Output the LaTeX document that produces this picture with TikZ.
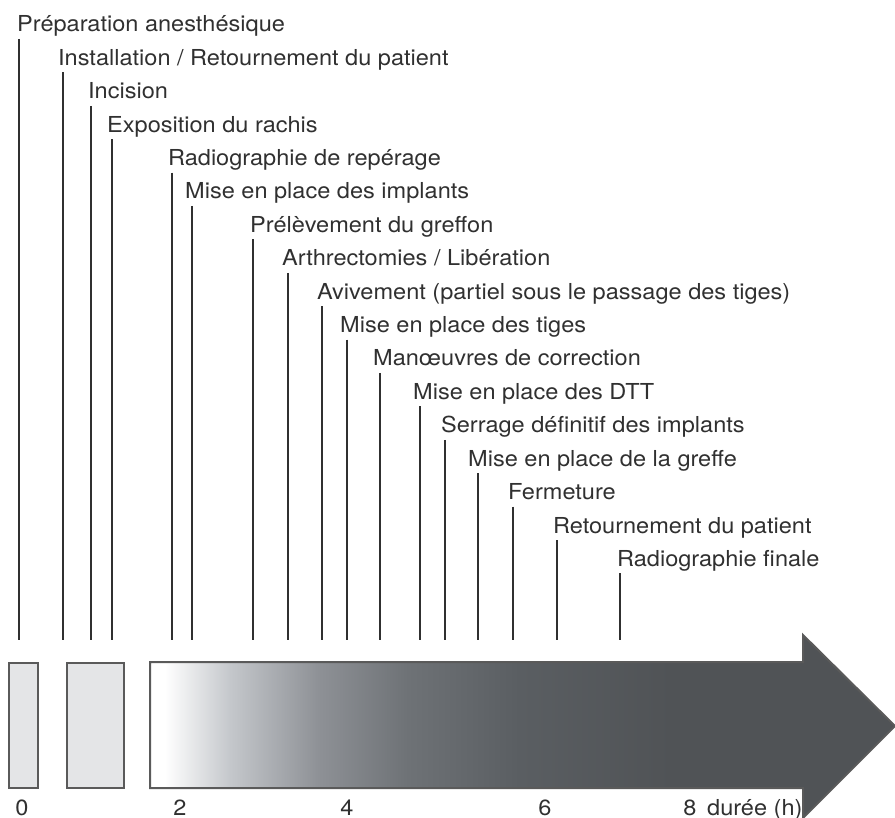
\documentclass[tikz,border=0pt]{standalone}
\usepackage{xcolor}
\usepackage{fontspec}
\setmainfont[FakeStretch=1.07]{TeX Gyre Heros}
\usepackage{tikz}
\usetikzlibrary{positioning, calc, shadings}
\definecolor{inkgray}{HTML}{303030}
\definecolor{edgegray}{HTML}{5A5A5A}
\definecolor{boxfill}{HTML}{E4E5E7}
\definecolor{shadeA}{HTML}{C4C7CB}
\definecolor{shadeB}{HTML}{8E9196}
\definecolor{shadeC}{HTML}{6E7276}
\definecolor{shadeD}{HTML}{5A5E62}
\definecolor{shadeE}{HTML}{505356}
\pgfdeclarehorizontalshading{timeshade}{100bp}{color(0bp)=(white); color(26bp)=(white); color(30.4bp)=(shadeA); color(36.3bp)=(shadeB); color(42.3bp)=(shadeC); color(49.8bp)=(shadeD); color(60bp)=(shadeE); color(100bp)=(shadeE)}

\begin{document}
\begin{tikzpicture}[x=1pt, y=-1pt,
		phase/.style={anchor=base west, inner sep=0pt, text=inkgray, font=\fontsize{22}{26}\selectfont},
		hour/.style={anchor=base, inner sep=0pt, text=inkgray, font=\fontsize{22}{26}\selectfont},
		phaseline/.style={draw=inkgray, line width=2.4pt},
		block/.style={draw=edgegray, fill=boxfill, line width=2pt}]
							\useasboundingbox (0,0) rectangle (895,818);
							\pgfmathsetmacro{\lineend}{640}
							\coordinate (axis) at (0,\lineend);
							
							% etapes
							\node[phase] (prep) at (17,32) {Préparation anesthésique};
							\node[phase] (install) at (58,65.4) {Installation / Retournement du patient};
							\node[phase] (incision) at (88,98.8) {Incision};
							\node[phase] (expo) at (107,132.2) {Exposition du rachis};
							\node[phase] (radioA) at (168,165.6) {Radiographie de repérage};
							\node[phase] (implants) at (185,199) {Mise en place des implants};
							\node[phase] (greffon) at (250,232.4) {Prélèvement du greffon};
							\node[phase] (arthro) at (282,265.8) {Arthrectomies / Libération};
							\node[phase] (avivement) at (317,299.2) {Avivement (partiel sous le passage des tiges)};
							\node[phase] (tiges) at (340,332.6) {Mise en place des tiges};
							\node[phase] (correction) at (373,366) {Manœuvres de correction};
							\node[phase] (dtt) at (413,399.4) {Mise en place des DTT};
							\node[phase] (serrage) at (441,432.8) {Serrage définitif des implants};
							\node[phase] (greffe) at (468,466.2) {Mise en place de la greffe};
							\node[phase] (fermeture) at (508,499.6) {Fermeture};
							\node[phase] (retour) at (553,533) {Retournement du patient};
							\node[phase] (radioB) at (617,566.4) {Radiographie finale};
							
							% traits
							\coordinate (prepTop) at (19,39);
							\coordinate (installTop) at (63,72.4);
							\coordinate (incisionTop) at (91,105.8);
							\coordinate (expoTop) at (112,139.2);
							\coordinate (radioATop) at (172,172.6);
							\coordinate (implantsTop) at (192,206);
							\coordinate (greffonTop) at (253,239.4);
							\coordinate (arthroTop) at (288,272.8);
							\coordinate (avivementTop) at (322,306.2);
							\coordinate (tigesTop) at (347,339.6);
							\coordinate (correctionTop) at (380,373);
							\coordinate (dttTop) at (420,406.4);
							\coordinate (serrageTop) at (445,439.8);
							\coordinate (greffeTop) at (478,473.2);
							\coordinate (fermetureTop) at (513,506.6);
							\coordinate (retourTop) at (557,540);
							\coordinate (radioBTop) at (620,573.4);
							\draw[phaseline] (prepTop) -- (prepTop |- axis);
							\draw[phaseline] (installTop) -- (installTop |- axis);
							\draw[phaseline] (incisionTop) -- (incisionTop |- axis);
							\draw[phaseline] (expoTop) -- (expoTop |- axis);
							\draw[phaseline] (radioATop) -- (radioATop |- axis);
							\draw[phaseline] (implantsTop) -- (implantsTop |- axis);
							\draw[phaseline] (greffonTop) -- (greffonTop |- axis);
							\draw[phaseline] (arthroTop) -- (arthroTop |- axis);
							\draw[phaseline] (avivementTop) -- (avivementTop |- axis);
							\draw[phaseline] (tigesTop) -- (tigesTop |- axis);
							\draw[phaseline] (correctionTop) -- (correctionTop |- axis);
							\draw[phaseline] (dttTop) -- (dttTop |- axis);
							\draw[phaseline] (serrageTop) -- (serrageTop |- axis);
							\draw[phaseline] (greffeTop) -- (greffeTop |- axis);
							\draw[phaseline] (fermetureTop) -- (fermetureTop |- axis);
							\draw[phaseline] (retourTop) -- (retourTop |- axis);
							\draw[phaseline] (radioBTop) -- (radioBTop |- axis);
							
							% blocs et fleche du temps
							\draw[block] (9,663) rectangle (38,788);
							\draw[block] (67,663) rectangle (124,788);
							\shadedraw[shading=timeshade, draw=edgegray, line width=2pt] (150,662) -- (803,662) -- (803,635) -- (895,726) -- (803,818) -- (803,788) -- (150,788) -- cycle;
							
							% heures
							\node[hour] (h0) at (22,815) {0};
							\node[hour] (h2) at (180,815) {2};
							\node[hour] (h4) at (347,815) {4};
							\node[hour] (h6) at (545,815) {6};
							\node[hour] (h8) at (690,815) {8};
							\node[phase] (unit) at (707,815) {durée (h)};
							\end{tikzpicture}
\end{document}
